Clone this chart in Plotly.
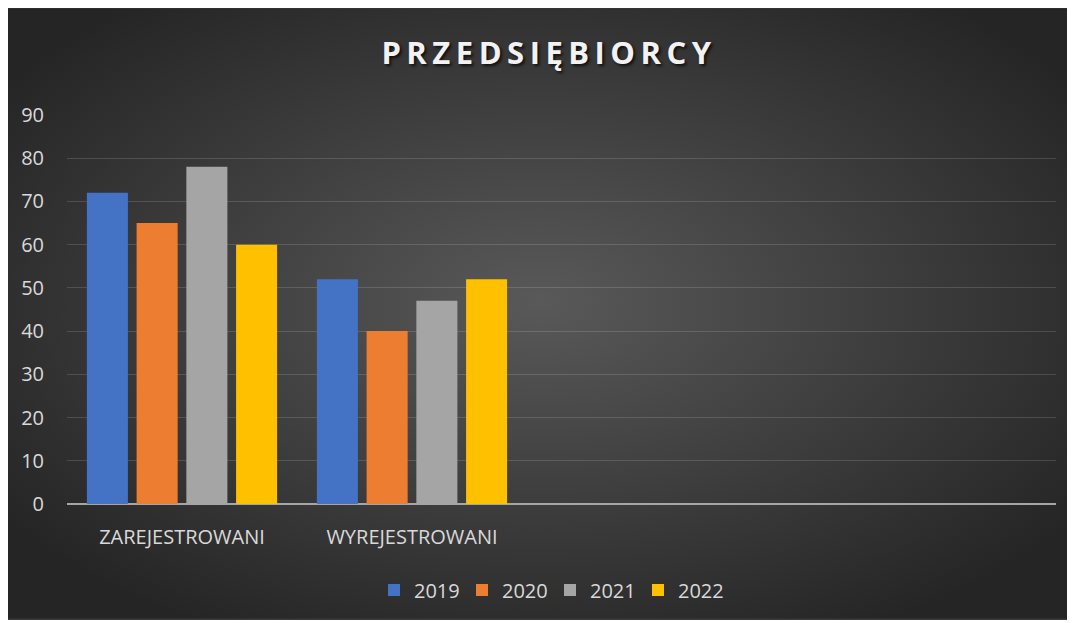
import base64
import plotly.graph_objects as go

categories = ["ZAREJESTROWANI", "WYREJESTROWANI"]
series_names = ["2019", "2020", "2021", "2022"]
values_2019 = [72, 52]
values_2020 = [65, 40]
values_2021 = [78, 47]
values_2022 = [60, 52]
series_values = [values_2019, values_2020, values_2021, values_2022]
colors = ["#4472C4", "#ED7D31", "#A5A5A5", "#FFC000"]
y_ticks = [0, 10, 20, 30, 40, 50, 60, 70, 80, 90]

W, H = 1064, 612
ml, mr, mt, mb = 59, 16, 107, 115
pw, ph = W - ml - mr, H - mt - mb

fig = go.Figure()
for name, vals, col in zip(series_names, series_values, colors):
    fig.add_trace(go.Bar(name=name, x=categories, y=vals,
                         marker=dict(color=col, line=dict(width=0))))

# radial gradient background (decoration)
svg = ('<svg xmlns="http://www.w3.org/2000/svg" width="%d" height="%d">'
       '<defs><radialGradient id="g" cx="50%%" cy="48%%" r="62%%">'
       '<stop offset="0%%" stop-color="#595959"/>'
       '<stop offset="100%%" stop-color="#252525"/>'
       '</radialGradient></defs>'
       '<rect width="%d" height="%d" fill="url(#g)"/></svg>') % (W, H, W, H)
src = "data:image/svg+xml;base64," + base64.b64encode(svg.encode()).decode()
fig.add_layout_image(dict(
    source=src, xref="paper", yref="paper",
    x=-ml / pw, y=(H - mb) / ph,
    sizex=W / pw, sizey=H / ph,
    xanchor="left", yanchor="top", sizing="stretch", layer="below"))

fig.update_layout(
    width=W, height=H,
    margin=dict(l=ml, r=mr, t=mt, b=mb, pad=0),
    paper_bgcolor="#3a3a3a",
    plot_bgcolor="rgba(0,0,0,0)",
    barmode="group", bargap=0.135, bargroupgap=0.175,
    font=dict(family="Open Sans", size=20, color="#d9d9d9"),
    title=dict(
        text='<span style="letter-spacing:5.5px">PRZEDSIĘBIORCY</span>',
        xref="container", yref="container", x=541 / W, y=1 - 45 / H,
        xanchor="center", yanchor="middle",
        font=dict(family="Open Sans", size=31, weight=700, color="#f2f2f2",
                  shadow="2px 2px 3px rgba(0,0,0,0.7)")),
    xaxis=dict(type="category", range=[-0.5, 3.8], showgrid=False,
               showline=False, zeroline=False, ticks="",
               tickfont=dict(size=20, color="#d9d9d9"), ticklabelstandoff=19),
    yaxis=dict(range=[0, 90], tickvals=y_ticks, showgrid=True,
               gridcolor="rgba(255,255,255,0.14)", gridwidth=1,
               zeroline=True, zerolinecolor="#a6a6a6", zerolinewidth=2,
               showline=False, ticks="", ticklabelstandoff=22,
               tickfont=dict(size=20, color="#d9d9d9")),
    legend=dict(orientation="h", x=(542 - ml) / pw, xanchor="center",
                y=(H - mb - 582) / ph, yanchor="middle",
                font=dict(size=20, color="#d9d9d9"),
                bgcolor="rgba(0,0,0,0)", traceorder="normal",
                itemwidth=30, entrywidth=43),
    showlegend=True,
)

fig.write_html("out.html")
